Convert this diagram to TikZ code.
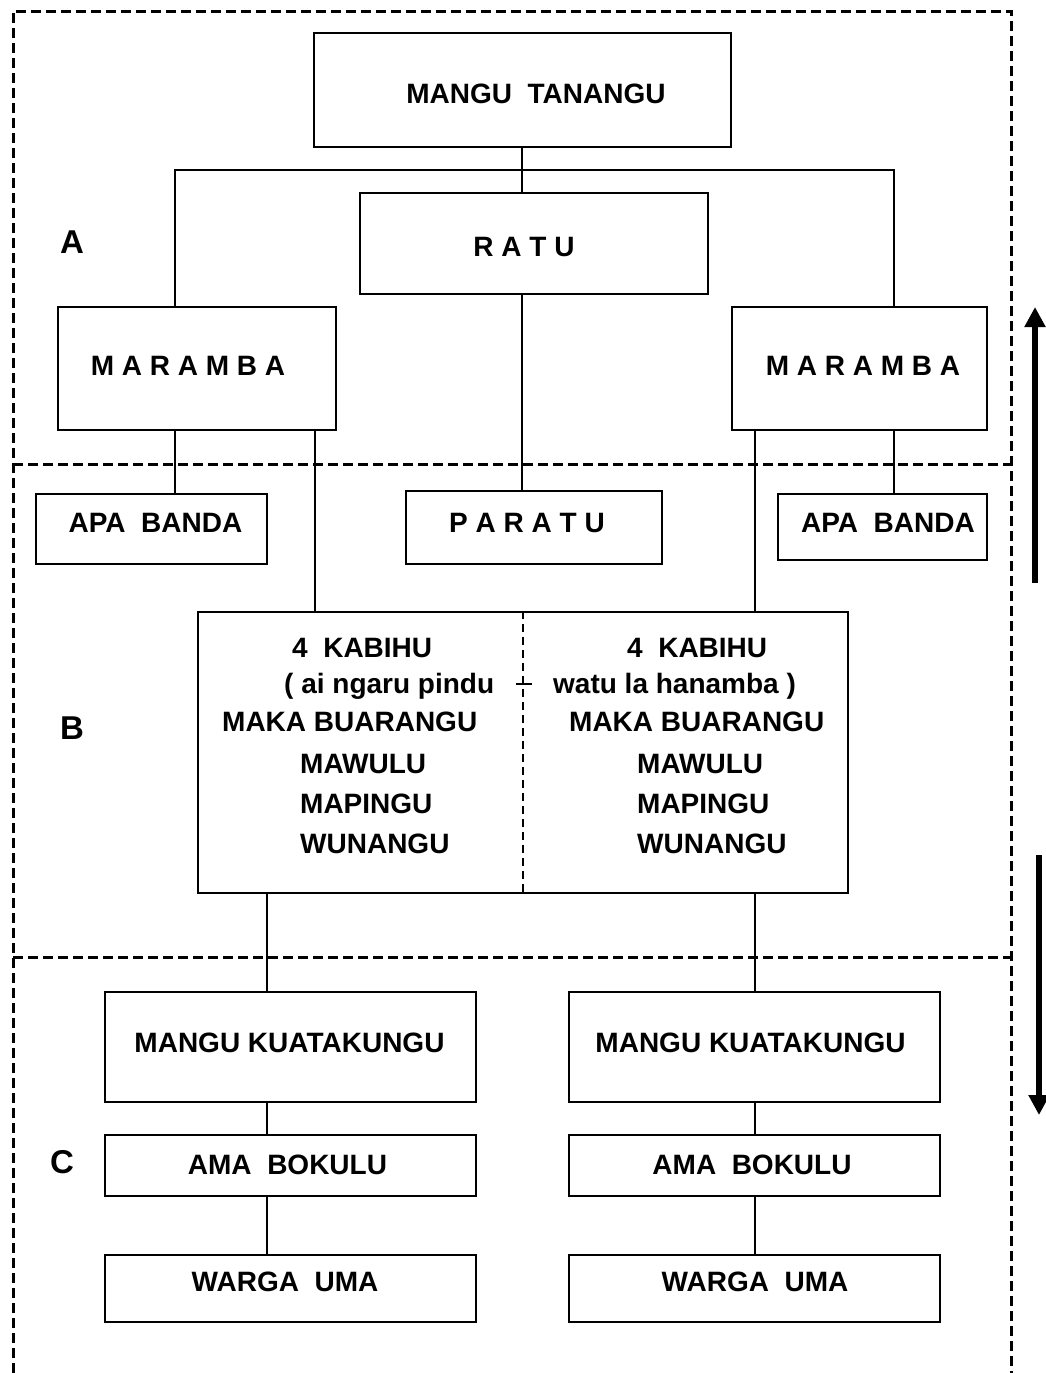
\documentclass[tikz,border=0pt]{standalone}
\usepackage{fontspec}
\setmainfont{Liberation Sans}
\usetikzlibrary{arrows.meta}

\begin{document}
\begin{tikzpicture}[x=1pt,y=-1pt,
	box/.style={draw,line width=1.6pt,inner sep=0pt},
	txt/.style={inner sep=0pt,font=\fontsize{28}{32}\selectfont\bfseries},
	part/.style={inner sep=0pt,font=\fontsize{33}{36}\selectfont\bfseries},
	frame/.style={line width=3pt,dash pattern=on 10pt off 5pt},
	link/.style={line width=1.4pt},
	level/.style={line width=5.5pt,-{Triangle[length=20pt,width=20pt]}}]
	
	\useasboundingbox (0,0) rectangle (1045,1373);
	
	% frame and levels
	\draw[frame] (13,1373) -- (13,11) -- (1011,11) -- (1011,1373);
	\draw[frame] (13,464) -- (1011,464);
	\draw[frame] (13,957) -- (1011,957);
	\node[part] (A) at (72,242) {A};
	\node[part] (B) at (72,728) {B};
	\node[part] (C) at (62,1162) {C};
	\draw[level] (1035,583) -- (1035,307);
	\draw[level] (1039,855) -- (1039,1115);
	
	% boxes
	\node[box,minimum width=417,minimum height=114] (mangu) at (522.5,90) {};
	\node[box,minimum width=348,minimum height=101] (ratu) at (534,243.5) {};
	\node[box,minimum width=278,minimum height=123] (maramL) at (197,368.5) {};
	\node[box,minimum width=255,minimum height=123] (maramR) at (859.5,368.5) {};
	\node[box,minimum width=231,minimum height=70] (apaL) at (151.5,529) {};
	\node[box,minimum width=256,minimum height=73] (paratu) at (534,527.5) {};
	\node[box,minimum width=209,minimum height=66] (apaR) at (882.5,527) {};
	\node[box,minimum width=650,minimum height=281] (kabihu) at (523,752.5) {};
	\node[box,minimum width=371,minimum height=110] (mkL) at (290.5,1047) {};
	\node[box,minimum width=371,minimum height=110] (mkR) at (754.5,1047) {};
	\node[box,minimum width=371,minimum height=61] (amaL) at (290.5,1165.5) {};
	\node[box,minimum width=371,minimum height=61] (amaR) at (754.5,1165.5) {};
	\node[box,minimum width=371,minimum height=67] (wargaL) at (290.5,1288.5) {};
	\node[box,minimum width=371,minimum height=67] (wargaR) at (754.5,1288.5) {};
	
	% texts
	\node[txt] (tmangu) at (536,94) {MANGU\ \ TANANGU};
	\node[txt] (tratu) at (524,247) {R A T U};
	\node[txt] (tmaramL) at (188,366) {M A R A M B A};
	\node[txt] (tmaramR) at (863,366) {M A R A M B A};
	\node[txt] (tapaL) at (155.5,523) {APA\ \ BANDA};
	\node[txt] (tparatu) at (527,523) {P A R A T U};
	\node[txt] (tapaR) at (888,523) {APA\ \ BANDA};
	\node[txt] (tmkL) at (289.5,1043) {MANGU KUATAKUNGU};
	\node[txt] (tmkR) at (750.5,1043) {MANGU KUATAKUNGU};
	\node[txt] (tamaL) at (287.5,1165) {AMA\ \ BOKULU};
	\node[txt] (tamaR) at (752,1165) {AMA\ \ BOKULU};
	\node[txt] (twargaL) at (285,1282) {WARGA\ \ UMA};
	\node[txt] (twargaR) at (755,1282) {WARGA\ \ UMA};
	
	% kabihu halves
	\draw[line width=1.8pt,dash pattern=on 8pt off 5pt] (kabihu.north) -- (kabihu.south);
	\draw[line width=1.8pt] (516,684) -- (532,684);
	\node[txt,anchor=base west] (k1) at (292,657) {4\ \ KABIHU};
	\node[txt,anchor=base west] (k2) at (284,693) {( ai ngaru pindu};
	\node[txt,anchor=base west] (k3) at (222,731) {MAKA BUARANGU};
	\node[txt,anchor=base west] (k4) at (300,773) {MAWULU};
	\node[txt,anchor=base west] (k5) at (300,813) {MAPINGU};
	\node[txt,anchor=base west] (k6) at (300,853) {WUNANGU};
	\node[txt,anchor=base west] (w1) at (627,657) {4\ \ KABIHU};
	\node[txt,anchor=base west] (w2) at (553,693) {watu la hanamba )};
	\node[txt,anchor=base west] (w3) at (569,731) {MAKA BUARANGU};
	\node[txt,anchor=base west] (w4) at (637,773) {MAWULU};
	\node[txt,anchor=base west] (w5) at (637,813) {MAPINGU};
	\node[txt,anchor=base west] (w6) at (637,853) {WUNANGU};
	
	% connectors
	\coordinate (cA) at (175,170);
	\coordinate (cB) at (894,170);
	\coordinate (cC) at (315,0);
	\coordinate (cD) at (755,0);
	\coordinate (cE) at (267,0);
	\coordinate (cM) at (522,0);
	\draw[link] (mangu.south -| cM) -- (ratu.north -| cM);
	\draw[link] (maramL.north -| cA) |- (cB) -- (maramR.north -| cB);
	\draw[link] (ratu.south -| cM) -- (paratu.north -| cM);
	\draw[link] (maramL.south -| cA) -- (apaL.north -| cA);
	\draw[link] (maramL.south -| cC) -- (kabihu.north -| cC);
	\draw[link] (maramR.south -| cD) -- (kabihu.north -| cD);
	\draw[link] (maramR.south -| cB) -- (apaR.north -| cB);
	\draw[link] (kabihu.south -| cE) -- (mkL.north -| cE);
	\draw[link] (kabihu.south -| cD) -- (mkR.north -| cD);
	\draw[link] (mkL.south -| cE) -- (amaL.north -| cE);
	\draw[link] (amaL.south -| cE) -- (wargaL.north -| cE);
	\draw[link] (mkR.south -| cD) -- (amaR.north -| cD);
	\draw[link] (amaR.south -| cD) -- (wargaR.north -| cD);
	
\end{tikzpicture}
\end{document}
